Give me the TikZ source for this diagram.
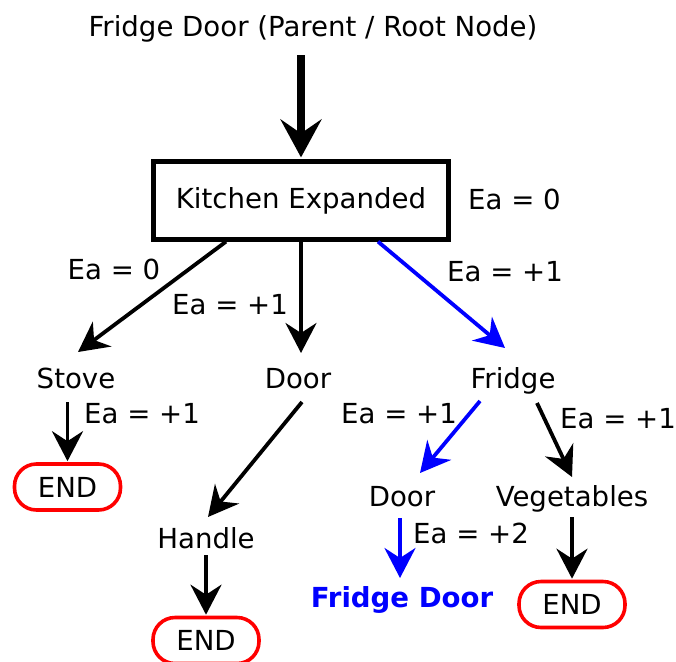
\documentclass[tikz,border=0pt]{standalone}
\usepackage{fontspec}
\setmainfont{DejaVu Sans}
\usetikzlibrary{arrows.meta,calc}

\tikzset{
  txtfont/.style={font=\fontsize{27.6}{31}\selectfont},
  lbl/.style={txtfont, inner sep=0pt, anchor=base},
  arr/.style={line width=3.8pt, -{Stealth[length=30pt, width=31pt, inset=10pt]}},
  bigarr/.style={line width=8pt, -{Stealth[length=38pt, width=41pt, inset=14pt]}},
  hl/.style={draw=blue, color=blue},
  endbox/.style={draw=red, line width=3.6pt, rounded corners=22pt,
    minimum width=106pt, minimum height=46pt, inner sep=0pt, txtfont},
  kitchen/.style={draw, line width=4.2pt, minimum width=295pt, minimum height=78pt,
    inner sep=0pt, txtfont}
}

\begin{document}
\begin{tikzpicture}[x=1pt, y=-1pt]
  \useasboundingbox (0,0) rectangle (676,661);

  % root and expanded node
  \node[lbl] (title) at (313,37) {Fridge Door (Parent / Root Node)};
  \node[kitchen] (kb) at (301,200.5) {Kitchen Expanded};
  \node[lbl, anchor=base west] (ea0) at (468,209) {Ea = 0};

  % second level
  \node[lbl] (stove)  at (76,388)  {Stove};
  \node[lbl] (door1)  at (298,388) {Door};
  \node[lbl] (fridge) at (513,388) {Fridge};

  % third level
  \node[endbox] (end1) at (67.5,487) {END};
  \node[lbl] (handle) at (206,548) {Handle};
  \node[lbl] (door2)  at (402,506) {Door};
  \node[lbl] (veg)    at (572,506) {Vegetables};

  % leaves
  \node[endbox] (end2) at (206,640.5) {END};
  \node[lbl, font=\fontsize{27.6}{31}\selectfont\bfseries, text=blue] (fd) at (402,607) {Fridge Door};
  \node[endbox] (end3) at (572,604.5) {END};

  % edge labels
  \node[lbl] (l1) at (114,279) {Ea = 0};
  \node[lbl] (l2) at (230,314) {Ea = +1};
  \node[lbl] (l3) at (505,281) {Ea = +1};
  \node[lbl] (l4) at (142,423) {Ea = +1};
  \node[lbl] (l5) at (399,423) {Ea = +1};
  \node[lbl] (l6) at (618,428) {Ea = +1};
  \node[lbl] (l7) at (471,543) {Ea = +2};

  % connectors
  \draw[bigarr] ($(title.base)+(-12,18)$) -- ($(kb.north)+(0,-2)$);
  \draw[arr] ($(kb.south)+(-75,0)$) -- ($(stove.base)+(2,-36)$);
  \draw[arr] (kb.south) -- ($(door1.base)+(3,-35)$);
  \draw[arr, hl] ($(kb.south)+(77,0)$) -- ($(fridge.base)+(-8,-40)$);

  \draw[arr] ($(stove.base)+(-8.5,14)$) -- ($(end1.north)+(0,-1)$);
  \draw[arr] ($(door1.base)+(4,14)$) -- ($(handle.base)+(2,-31)$);
  \draw[arr] ($(handle.base)+(0,7)$) -- ($(end2.north)+(0,-1)$);
  \draw[arr, hl] ($(fridge.base)+(-33,13)$) -- ($(door2.base)+(18,-33)$);
  \draw[arr] ($(fridge.base)+(24,15)$) -- ($(veg.base)+(0,-29)$);
  \draw[arr, hl] ($(door2.base)+(-2,12)$) -- ($(fd.base)+(-2,-29)$);
  \draw[arr] ($(veg.base)+(0,11)$) -- ($(end3.north)+(0,-1)$);
\end{tikzpicture}
\end{document}
